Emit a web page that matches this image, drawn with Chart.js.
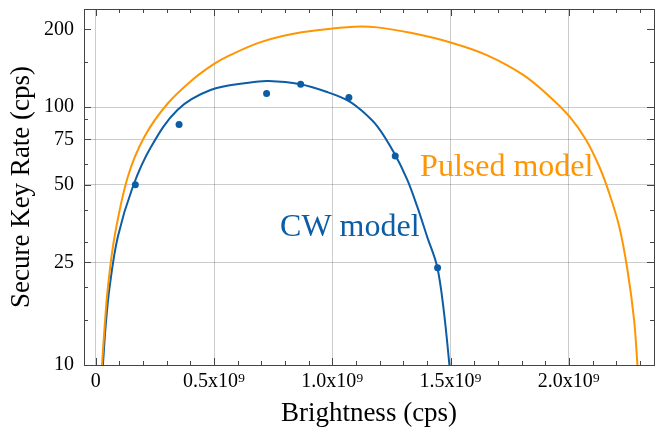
<!DOCTYPE html>
<html>
<head>
<meta charset="utf-8">
<script src="https://cdn.jsdelivr.net/npm/chart.js@4.4.1/dist/chart.umd.min.js"></script>
<style>
  html, body { margin: 0; padding: 0; background: #fff; }
</style>
</head>
<body>
<canvas id="myChart" width="658" height="430"></canvas>
<script>
// brightness in units of 1e9 cps, key rate in cps
const cwX = [0.027, 0.030, 0.041, 0.058, 0.093, 0.156, 0.233, 0.345, 0.485, 0.646, 0.730, 0.865, 0.982, 1.066, 1.121, 1.191, 1.262, 1.317, 1.359, 1.401, 1.443, 1.471, 1.495, 1.499];
const cwY = [9, 10, 14, 20, 31.4, 49, 70, 97.5, 116.4, 124.3, 126.2, 122.5, 114, 106, 97.4, 84.0, 66.2, 52.2, 41.1, 31.4, 24.1, 16.3, 10, 9];

const pulsedX = [0.022, 0.026, 0.037, 0.051, 0.079, 0.135, 0.205, 0.303, 0.415, 0.50, 0.555, 0.70, 0.87, 1.094, 1.191, 1.331, 1.50, 1.653, 1.807, 1.919, 2.003, 2.073, 2.129, 2.171, 2.213, 2.248, 2.276, 2.29, 2.294];
const pulsedY = [9, 10, 14, 20, 31.4, 53.6, 76.6, 103, 129, 147, 157, 179, 195, 205, 203.7, 194, 178, 159, 133.2, 109.7, 91.8, 74.6, 58.7, 46.3, 34.4, 23.3, 14.9, 10, 9];

const measX = [0.167, 0.352, 0.722, 0.866, 1.070, 1.266, 1.445];
const measY = [50, 85.5, 113, 122.7, 109, 64.6, 23.8];

const xTickValues = [0, 0.5, 1.0, 1.5, 2.0];
const xTickLabels = ['0', '0.5x10\u2079', '1.0x10\u2079', '1.5x10\u2079', '2.0x10\u2079'];
const yTickValues = [10, 25, 50, 75, 100, 200];
const yTickLabels = ['10', '25', '50', '75', '100', '200'];
const yMinorTicks = [15, 20, 30, 40, 60, 90, 150];
const yGridValues = [25, 50, 75, 100];

const blue = '#0C5DA5';
const orange = '#FF9500';
const ink = '#444444';
const serif = "'Liberation Serif', 'DejaVu Serif', serif";

const toPoints = (xs, ys) => xs.map((v, i) => ({ x: v, y: ys[i] }));

// inward ticks on all four sides + frame
const frameTicks = {
  id: 'frameTicks',
  afterDatasetsDraw(chart) {
    const { ctx, chartArea: a, scales: { x, y } } = chart;
    ctx.save();
    ctx.strokeStyle = ink;
    ctx.lineWidth = 1;
    ctx.beginPath();
    const xMinor = [];
    for (let v = 0; v <= 2.36; v += 0.1) xMinor.push(Math.round(v * 10) / 10);
    const xTick = (v, len) => {
      const p = Math.round(x.getPixelForValue(v)) + 0.5;
      ctx.moveTo(p, a.bottom); ctx.lineTo(p, a.bottom - len);
      ctx.moveTo(p, a.top); ctx.lineTo(p, a.top + len);
    };
    const yTick = (v, len) => {
      const p = Math.round(y.getPixelForValue(v)) + 0.5;
      ctx.moveTo(a.left, p); ctx.lineTo(a.left + len, p);
      ctx.moveTo(a.right, p); ctx.lineTo(a.right - len, p);
    };
    xMinor.forEach(v => xTick(v, 4));
    xTickValues.forEach(v => xTick(v, 7));
    yMinorTicks.forEach(v => yTick(v, 4));
    yTickValues.forEach(v => yTick(v, 7));
    ctx.stroke();
    ctx.strokeRect(a.left + 0.5, a.top + 0.5, a.right - a.left, a.bottom - a.top);
    ctx.restore();
  }
};

// curve labels placed in data coordinates
const curveLabels = {
  id: 'curveLabels',
  afterDatasetsDraw(chart) {
    const { ctx, scales: { x, y } } = chart;
    ctx.save();
    ctx.font = '32px ' + serif;
    ctx.textAlign = 'left';
    ctx.textBaseline = 'alphabetic';
    ctx.fillStyle = orange;
    ctx.fillText('Pulsed model', x.getPixelForValue(1.371), y.getPixelForValue(54));
    ctx.fillStyle = blue;
    ctx.fillText('CW model', x.getPixelForValue(0.779), y.getPixelForValue(31.6));
    ctx.restore();
  }
};

Chart.defaults.font.family = serif;
Chart.defaults.color = '#000';

const ctx = document.getElementById('myChart').getContext('2d');
const myChart = new Chart(ctx, {
  type: 'scatter',
  data: {
    datasets: [
      {
        label: 'Measured',
        data: toPoints(measX, measY),
        pointRadius: 3.5,
        pointBackgroundColor: blue,
        pointBorderWidth: 0,
        showLine: false
      },
      {
        label: 'Pulsed model',
        data: toPoints(pulsedX, pulsedY),
        showLine: true,
        borderColor: orange,
        borderWidth: 2,
        pointRadius: 0,
        tension: 0.35
      },
      {
        label: 'CW model',
        data: toPoints(cwX, cwY),
        showLine: true,
        borderColor: blue,
        borderWidth: 2,
        pointRadius: 0,
        tension: 0.35
      }
    ]
  },
  options: {
    responsive: false,
    animation: false,
    layout: { padding: { top: 9, right: 0, left: 0, bottom: 0 } },
    plugins: {
      legend: { display: false },
      tooltip: { enabled: false }
    },
    scales: {
      x: {
        type: 'linear',
        min: -0.05,
        max: 2.36,
        afterBuildTicks: s => { s.ticks = xTickValues.map(v => ({ value: v })); },
        afterFit: s => { s.height = 65; s.paddingLeft = 0; s.paddingRight = 0; },
        ticks: {
          autoSkip: false,
          maxRotation: 0,
          padding: 5,
          font: { size: 20 },
          callback: v => xTickLabels[xTickValues.indexOf(v)]
        },
        grid: { color: 'rgba(0,0,0,0.2)', lineWidth: 1, drawTicks: false },
        border: { display: false },
        title: {
          display: true,
          text: 'Brightness (cps)',
          font: { size: 27, lineHeight: 1 },
          padding: { top: 0, bottom: 3 }
        }
      },
      y: {
        type: 'logarithmic',
        min: 10,
        max: 240,
        afterBuildTicks: s => { s.ticks = yTickValues.map(v => ({ value: v })); },
        afterFit: s => { s.width = 84; s.paddingTop = 0; s.paddingBottom = 0; },
        ticks: {
          autoSkip: false,
          padding: 10,
          font: { size: 20 },
          callback: v => yTickLabels[yTickValues.indexOf(v)]
        },
        grid: {
          color: c => (c.tick && yGridValues.includes(c.tick.value)) ? 'rgba(0,0,0,0.2)' : 'rgba(0,0,0,0)',
          lineWidth: 1,
          drawTicks: false
        },
        border: { display: false },
        title: {
          display: true,
          text: 'Secure Key Rate (cps)',
          font: { size: 27, lineHeight: 1 },
          padding: { top: 8, bottom: 0 }
        }
      }
    }
  },
  plugins: [frameTicks, curveLabels]
});
</script>
</body>
</html>
